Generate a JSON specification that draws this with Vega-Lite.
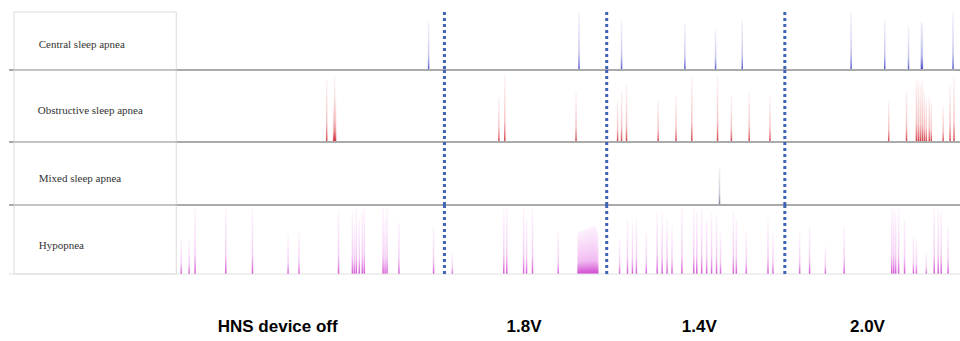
{
  "$schema": "https://vega.github.io/schema/vega-lite/v6.json",
  "padding": {"left": 8, "top": 10, "right": 0, "bottom": 0},
  "bounds": "flush",
  "spacing": 0,
  "background": "white",
  "config": {"view": {"stroke": null}},
  "datasets": {
    "rows": [
      {"row": "Central sleep apnea"},
      {"row": "Obstructive sleep apnea"},
      {"row": "Mixed sleep apnea"},
      {"row": "Hypopnea"}
    ],
    "phases": [{"t": 271}, {"t": 435}, {"t": 615}],
    "events": [
      {"row": "C", "t": 255, "h": 0.82}, {"row": "C", "t": 407, "h": 1.0}, {"row": "C", "t": 450, "h": 0.86},
      {"row": "C", "t": 514, "h": 0.8}, {"row": "C", "t": 545, "h": 0.7}, {"row": "C", "t": 572, "h": 0.86},
      {"row": "C", "t": 682, "h": 1.0}, {"row": "C", "t": 716, "h": 0.88}, {"row": "C", "t": 740, "h": 0.74},
      {"row": "C", "t": 753, "h": 0.83}, {"row": "C", "t": 754, "h": 0.8}, {"row": "C", "t": 785, "h": 1.0},

      {"row": "O", "t": 152, "h": 0.87}, {"row": "O", "t": 159, "h": 0.5}, {"row": "O", "t": 160, "h": 0.93},
      {"row": "O", "t": 161, "h": 0.6}, {"row": "O", "t": 326, "h": 0.62}, {"row": "O", "t": 332, "h": 0.93},
      {"row": "O", "t": 404, "h": 0.69}, {"row": "O", "t": 446, "h": 0.58}, {"row": "O", "t": 450, "h": 0.72},
      {"row": "O", "t": 455, "h": 0.8}, {"row": "O", "t": 487, "h": 0.58}, {"row": "O", "t": 505, "h": 0.65},
      {"row": "O", "t": 521, "h": 0.9}, {"row": "O", "t": 547, "h": 0.93}, {"row": "O", "t": 561, "h": 0.65},
      {"row": "O", "t": 579, "h": 0.69}, {"row": "O", "t": 600, "h": 0.64}, {"row": "O", "t": 720, "h": 0.58},
      {"row": "O", "t": 738, "h": 0.72}, {"row": "O", "t": 748, "h": 0.87}, {"row": "O", "t": 750, "h": 0.85},
      {"row": "O", "t": 752, "h": 0.8}, {"row": "O", "t": 754, "h": 0.87}, {"row": "O", "t": 756, "h": 0.7},
      {"row": "O", "t": 758, "h": 0.6}, {"row": "O", "t": 761, "h": 0.65}, {"row": "O", "t": 763, "h": 0.55},
      {"row": "O", "t": 775, "h": 0.5}, {"row": "O", "t": 782, "h": 0.8}, {"row": "O", "t": 786, "h": 0.9},

      {"row": "M", "t": 549, "h": 0.6},

      {"row": "H", "t": 5, "h": 0.5}, {"row": "H", "t": 13, "h": 0.5}, {"row": "H", "t": 19, "h": 0.95},
      {"row": "H", "t": 50, "h": 0.95}, {"row": "H", "t": 77, "h": 0.95}, {"row": "H", "t": 113, "h": 0.56},
      {"row": "H", "t": 124, "h": 0.6}, {"row": "H", "t": 164, "h": 0.9}, {"row": "H", "t": 178, "h": 0.9},
      {"row": "H", "t": 180, "h": 0.7}, {"row": "H", "t": 182, "h": 0.95}, {"row": "H", "t": 185, "h": 0.8},
      {"row": "H", "t": 188, "h": 0.9}, {"row": "H", "t": 190, "h": 0.95}, {"row": "H", "t": 209, "h": 0.95},
      {"row": "H", "t": 211, "h": 0.8}, {"row": "H", "t": 213, "h": 0.95}, {"row": "H", "t": 225, "h": 0.75},
      {"row": "H", "t": 260, "h": 0.7}, {"row": "H", "t": 279, "h": 0.3}, {"row": "H", "t": 331, "h": 0.95},
      {"row": "H", "t": 334, "h": 0.95}, {"row": "H", "t": 351, "h": 0.95}, {"row": "H", "t": 354, "h": 0.8},
      {"row": "H", "t": 360, "h": 0.95}, {"row": "H", "t": 386, "h": 0.6}, {"row": "H", "t": 406, "h": 0.6},
      {"row": "H", "t": 407, "h": 0.61}, {"row": "H", "t": 408, "h": 0.62}, {"row": "H", "t": 409, "h": 0.62},
      {"row": "H", "t": 410, "h": 0.62}, {"row": "H", "t": 411, "h": 0.63}, {"row": "H", "t": 412, "h": 0.64},
      {"row": "H", "t": 413, "h": 0.64}, {"row": "H", "t": 414, "h": 0.65}, {"row": "H", "t": 415, "h": 0.66},
      {"row": "H", "t": 416, "h": 0.66}, {"row": "H", "t": 417, "h": 0.67}, {"row": "H", "t": 418, "h": 0.67},
      {"row": "H", "t": 419, "h": 0.68}, {"row": "H", "t": 420, "h": 0.68}, {"row": "H", "t": 421, "h": 0.69},
      {"row": "H", "t": 422, "h": 0.7}, {"row": "H", "t": 423, "h": 0.69}, {"row": "H", "t": 424, "h": 0.68},
      {"row": "H", "t": 425, "h": 0.64}, {"row": "H", "t": 426, "h": 0.6},
      {"row": "H", "t": 448, "h": 0.5}, {"row": "H", "t": 456, "h": 0.8},
      {"row": "H", "t": 461, "h": 0.75}, {"row": "H", "t": 465, "h": 0.8}, {"row": "H", "t": 475, "h": 0.6},
      {"row": "H", "t": 486, "h": 0.9}, {"row": "H", "t": 491, "h": 0.9}, {"row": "H", "t": 496, "h": 0.8},
      {"row": "H", "t": 501, "h": 0.7}, {"row": "H", "t": 511, "h": 0.95}, {"row": "H", "t": 523, "h": 0.95},
      {"row": "H", "t": 526, "h": 0.9}, {"row": "H", "t": 531, "h": 0.95}, {"row": "H", "t": 536, "h": 0.8},
      {"row": "H", "t": 541, "h": 0.9}, {"row": "H", "t": 546, "h": 0.85}, {"row": "H", "t": 550, "h": 0.6},
      {"row": "H", "t": 563, "h": 0.9}, {"row": "H", "t": 566, "h": 0.8}, {"row": "H", "t": 576, "h": 0.6},
      {"row": "H", "t": 598, "h": 0.8}, {"row": "H", "t": 603, "h": 0.6}, {"row": "H", "t": 630, "h": 0.6},
      {"row": "H", "t": 640, "h": 0.7}, {"row": "H", "t": 656, "h": 0.4}, {"row": "H", "t": 675, "h": 0.7},
      {"row": "H", "t": 723, "h": 0.95}, {"row": "H", "t": 725, "h": 0.95}, {"row": "H", "t": 727, "h": 0.9},
      {"row": "H", "t": 730, "h": 0.95}, {"row": "H", "t": 736, "h": 0.8}, {"row": "H", "t": 745, "h": 0.55},
      {"row": "H", "t": 748, "h": 0.5}, {"row": "H", "t": 758, "h": 0.3}, {"row": "H", "t": 766, "h": 0.95},
      {"row": "H", "t": 770, "h": 0.95}, {"row": "H", "t": 773, "h": 0.9}, {"row": "H", "t": 780, "h": 0.7}
    ]
  },
  "vconcat": [
    {
      "width": 952, "height": 58,
      "layer": [
        {"data": {"name": "rows"}, "transform": [{"filter": "datum.row == 'Central sleep apnea'"}],
         "mark": {"type": "rect", "fill": "transparent", "stroke": "#dcdcdc", "strokeWidth": 1},
         "encoding": {"x": {"datum": -164, "type": "quantitative", "scale": {"domain": [-164, 788], "nice": false, "zero": false}, "axis": null},
                      "x2": {"datum": 0}, "y": {"datum": 0, "type": "quantitative", "scale": {"domain": [0, 1], "nice": false}, "axis": null}, "y2": {"datum": 1}}},
        {"data": {"name": "rows"}, "transform": [{"filter": "datum.row == 'Central sleep apnea'"}],
         "mark": {"type": "text", "align": "left", "baseline": "middle", "dy": 4, "font": "Liberation Serif", "fontSize": 11, "color": "#333"},
         "encoding": {"x": {"datum": -139, "type": "quantitative"}, "y": {"datum": 0.5, "type": "quantitative"}, "text": {"field": "row"}}},
        {"data": {"name": "events"}, "transform": [{"filter": "datum.row == 'C'"}],
         "mark": {"type": "bar", "width": 1.5, "strokeWidth": 0,
                  "fill": {"gradient": "linear", "x1": 0, "y1": 1, "x2": 0, "y2": 0,
                           "stops": [{"offset": 0, "color": "rgba(60,60,200,0.9)"}, {"offset": 0.3, "color": "rgba(110,110,215,0.4)"}, {"offset": 1, "color": "rgba(160,160,230,0.12)"}]}},
         "encoding": {"x": {"field": "t", "type": "quantitative"}, "y": {"field": "h", "type": "quantitative"}, "y2": {"datum": 0}}},
        {"data": {"name": "events"}, "mark": {"type": "rule", "color": "#aaaaaa", "strokeWidth": 2},
         "transform": [{"filter": "datum.row == 'C' && datum.t == 255"}],
         "encoding": {"y": {"datum": 0, "type": "quantitative"}}},
        {"data": {"name": "phases"}, "mark": {"type": "rule", "color": "#3f63b5", "strokeWidth": 3, "strokeDash": [3, 3]},
         "encoding": {"x": {"field": "t", "type": "quantitative"}}}
      ]
    },
    {
      "width": 952, "height": 72,
      "layer": [
        {"data": {"name": "rows"}, "transform": [{"filter": "datum.row == 'Obstructive sleep apnea'"}],
         "mark": {"type": "rect", "fill": "transparent", "stroke": "#dcdcdc", "strokeWidth": 1},
         "encoding": {"x": {"datum": -164, "type": "quantitative", "scale": {"domain": [-164, 788], "nice": false, "zero": false}, "axis": null},
                      "x2": {"datum": 0}, "y": {"datum": 0, "type": "quantitative", "scale": {"domain": [0, 1], "nice": false}, "axis": null}, "y2": {"datum": 1}}},
        {"data": {"name": "rows"}, "transform": [{"filter": "datum.row == 'Obstructive sleep apnea'"}],
         "mark": {"type": "text", "align": "left", "baseline": "middle", "dy": 5, "font": "Liberation Serif", "fontSize": 11, "color": "#333"},
         "encoding": {"x": {"datum": -140, "type": "quantitative"}, "y": {"datum": 0.5, "type": "quantitative"}, "text": {"field": "row"}}},
        {"data": {"name": "events"}, "transform": [{"filter": "datum.row == 'O'"}],
         "mark": {"type": "bar", "width": 1.5, "strokeWidth": 0,
                  "fill": {"gradient": "linear", "x1": 0, "y1": 1, "x2": 0, "y2": 0,
                           "stops": [{"offset": 0, "color": "rgba(200,25,35,0.85)"}, {"offset": 0.3, "color": "rgba(225,80,85,0.35)"}, {"offset": 1, "color": "rgba(240,150,150,0.1)"}]}},
         "encoding": {"x": {"field": "t", "type": "quantitative"}, "y": {"field": "h", "type": "quantitative"}, "y2": {"datum": 0}}},
        {"data": {"name": "events"}, "mark": {"type": "rule", "color": "#aaaaaa", "strokeWidth": 2},
         "transform": [{"filter": "datum.row == 'C' && datum.t == 255"}],
         "encoding": {"y": {"datum": 0, "type": "quantitative"}}},
        {"data": {"name": "phases"}, "mark": {"type": "rule", "color": "#3f63b5", "strokeWidth": 3, "strokeDash": [3, 3]},
         "encoding": {"x": {"field": "t", "type": "quantitative"}}}
      ]
    },
    {
      "width": 952, "height": 63,
      "layer": [
        {"data": {"name": "rows"}, "transform": [{"filter": "datum.row == 'Mixed sleep apnea'"}],
         "mark": {"type": "rect", "fill": "transparent", "stroke": "#dcdcdc", "strokeWidth": 1},
         "encoding": {"x": {"datum": -164, "type": "quantitative", "scale": {"domain": [-164, 788], "nice": false, "zero": false}, "axis": null},
                      "x2": {"datum": 0}, "y": {"datum": 0, "type": "quantitative", "scale": {"domain": [0, 1], "nice": false}, "axis": null}, "y2": {"datum": 1}}},
        {"data": {"name": "rows"}, "transform": [{"filter": "datum.row == 'Mixed sleep apnea'"}],
         "mark": {"type": "text", "align": "left", "baseline": "middle", "dy": 5, "font": "Liberation Serif", "fontSize": 11, "color": "#333"},
         "encoding": {"x": {"datum": -139, "type": "quantitative"}, "y": {"datum": 0.5, "type": "quantitative"}, "text": {"field": "row"}}},
        {"data": {"name": "events"}, "transform": [{"filter": "datum.row == 'M'"}],
         "mark": {"type": "bar", "width": 1.5, "strokeWidth": 0,
                  "fill": {"gradient": "linear", "x1": 0, "y1": 1, "x2": 0, "y2": 0,
                           "stops": [{"offset": 0, "color": "rgba(100,90,120,0.85)"}, {"offset": 0.3, "color": "rgba(130,120,150,0.4)"}, {"offset": 1, "color": "rgba(170,160,190,0.12)"}]}},
         "encoding": {"x": {"field": "t", "type": "quantitative"}, "y": {"field": "h", "type": "quantitative"}, "y2": {"datum": 0}}},
        {"data": {"name": "events"}, "mark": {"type": "rule", "color": "#aaaaaa", "strokeWidth": 2},
         "transform": [{"filter": "datum.row == 'C' && datum.t == 255"}],
         "encoding": {"y": {"datum": 0, "type": "quantitative"}}},
        {"data": {"name": "phases"}, "mark": {"type": "rule", "color": "#3f63b5", "strokeWidth": 3, "strokeDash": [3, 3]},
         "encoding": {"x": {"field": "t", "type": "quantitative"}}}
      ]
    },
    {
      "width": 952, "height": 69,
      "layer": [
        {"data": {"name": "rows"}, "transform": [{"filter": "datum.row == 'Hypopnea'"}],
         "mark": {"type": "rect", "fill": "transparent", "stroke": "#dcdcdc", "strokeWidth": 1},
         "encoding": {"x": {"datum": -164, "type": "quantitative",
                            "scale": {"domain": [-164, 788], "nice": false, "zero": false},
                            "axis": {"values": [102, 351, 528, 698],
                                     "labelExpr": "datum.value == 102 ? 'HNS device off' : datum.value == 351 ? '1.8V' : datum.value == 528 ? '1.4V' : '2.0V'",
                                     "domain": false, "ticks": false, "grid": false, "labelPadding": 44,
                                     "labelFont": "Liberation Sans", "labelFontSize": 17, "labelFontWeight": "bold",
                                     "labelColor": "#000", "labelOverlap": false, "labelFlush": false, "title": null}},
                      "x2": {"datum": 0}, "y": {"datum": 0, "type": "quantitative", "scale": {"domain": [0, 1], "nice": false}, "axis": null}, "y2": {"datum": 1}}},
        {"data": {"name": "rows"}, "transform": [{"filter": "datum.row == 'Hypopnea'"}],
         "mark": {"type": "text", "align": "left", "baseline": "middle", "dy": 6, "font": "Liberation Serif", "fontSize": 11, "color": "#333"},
         "encoding": {"x": {"datum": -139, "type": "quantitative"}, "y": {"datum": 0.5, "type": "quantitative"}, "text": {"field": "row"}}},
        {"data": {"name": "events"}, "transform": [{"filter": "datum.row == 'H'"}],
         "mark": {"type": "bar", "width": 1.5, "strokeWidth": 0,
                  "fill": {"gradient": "linear", "x1": 0, "y1": 1, "x2": 0, "y2": 0,
                           "stops": [{"offset": 0, "color": "rgba(200,40,200,0.8)"}, {"offset": 0.3, "color": "rgba(225,110,225,0.35)"}, {"offset": 1, "color": "rgba(240,170,240,0.12)"}]}},
         "encoding": {"x": {"field": "t", "type": "quantitative"}, "y": {"field": "h", "type": "quantitative"}, "y2": {"datum": 0}}},
        {"data": {"name": "events"}, "mark": {"type": "rule", "color": "#e0e0e0", "strokeWidth": 1},
         "transform": [{"filter": "datum.row == 'C' && datum.t == 255"}],
         "encoding": {"y": {"datum": 0, "type": "quantitative"}}},
        {"data": {"name": "phases"}, "mark": {"type": "rule", "color": "#3f63b5", "strokeWidth": 3, "strokeDash": [3, 3]},
         "encoding": {"x": {"field": "t", "type": "quantitative"}}}
      ]
    }
  ]
}
